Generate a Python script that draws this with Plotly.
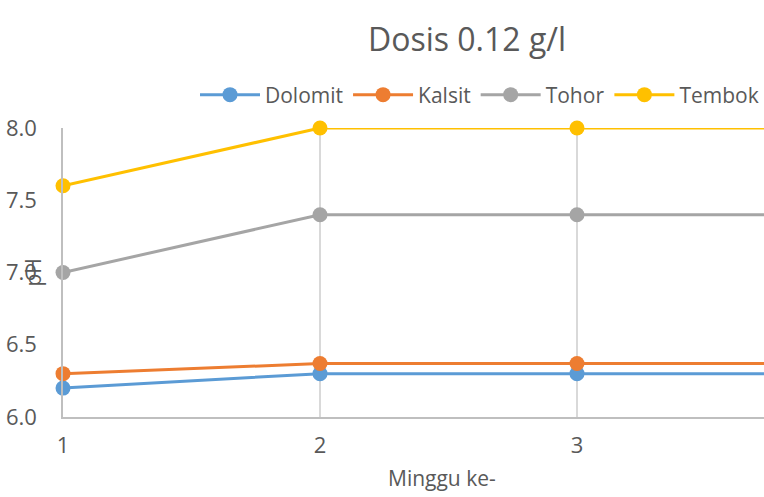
import plotly.graph_objects as go

weeks = [1, 2, 3, 4]
dolomit = [6.2, 6.3, 6.3, 6.3]
kalsit = [6.3, 6.37, 6.37, 6.37]
tohor = [7.0, 7.4, 7.4, 7.4]
tembok = [7.6, 8.0, 8.0, 8.0]

series = [
    ('Dolomit', dolomit, '#5B9BD5'),
    ('Kalsit', kalsit, '#ED7D31'),
    ('Tohor', tohor, '#A5A5A5'),
    ('Tembok', tembok, '#FFC000'),
]

font_family = 'Open Sans, Liberation Sans, sans-serif'
text_color = '#595959'

fig = go.Figure()
for name, values, color in series:
    fig.add_trace(go.Scatter(
        x=weeks,
        y=values,
        mode='lines+markers',
        name=name,
        line=dict(color=color, width=3),
        marker=dict(color=color, size=15),
        cliponaxis=False,
    ))

fig.update_layout(
    width=764,
    height=497,
    margin=dict(l=63, r=0, t=128, b=80),
    paper_bgcolor='white',
    plot_bgcolor='white',
    font=dict(family=font_family, color=text_color, size=21),
    title=dict(
        text='Dosis 0.12 g/l',
        x=(467 - 63) / 701, xanchor='center', xref='paper',
        y=1 - 40 / 497, yanchor='middle', yref='container',
        font=dict(size=32, color=text_color),
    ),
    legend=dict(
        orientation='h',
        x=1.0, xanchor='right',
        y=1 + (128 - 95) / 289, yanchor='middle',
        font=dict(size=21),
        itemwidth=60,
        tracegroupgap=0,
    ),
    xaxis=dict(
        range=[1, 1 + (764 - 63) / 257],
        tickvals=weeks,
        ticktext=[str(w) for w in weeks],
        showgrid=True,
        gridcolor='#D9D9D9',
        gridwidth=1.5,
        showline=True,
        linecolor='#BFBFBF',
        linewidth=1.5,
        zeroline=False,
        ticks='',
        ticklabelstandoff=8,
        tickfont=dict(size=22),
    ),
    yaxis=dict(
        range=[6.0, 8.0],
        tickvals=[6.0, 6.5, 7.0, 7.5, 8.0],
        tickformat='.1f',
        showgrid=False,
        showline=True,
        linecolor='#BFBFBF',
        linewidth=1.5,
        zeroline=False,
        ticks='',
        ticklabelstandoff=20,
        tickfont=dict(size=22),
    ),
    showlegend=True,
)

fig.add_annotation(
    text='pH', textangle=-90,
    xref='paper', yref='y',
    x=-31 / 701, y=7.0,
    xanchor='center', yanchor='middle',
    showarrow=False, font=dict(size=21, color=text_color),
)
fig.add_annotation(
    text='Minggu ke-',
    xref='paper', yref='paper',
    x=(442 - 63) / 701, y=-(478 - 417) / 289,
    xanchor='center', yanchor='middle',
    showarrow=False, font=dict(size=21, color=text_color),
)

fig.write_html('out.html', config={'displayModeBar': False},
               post_script="document.body.style.margin='0';")
